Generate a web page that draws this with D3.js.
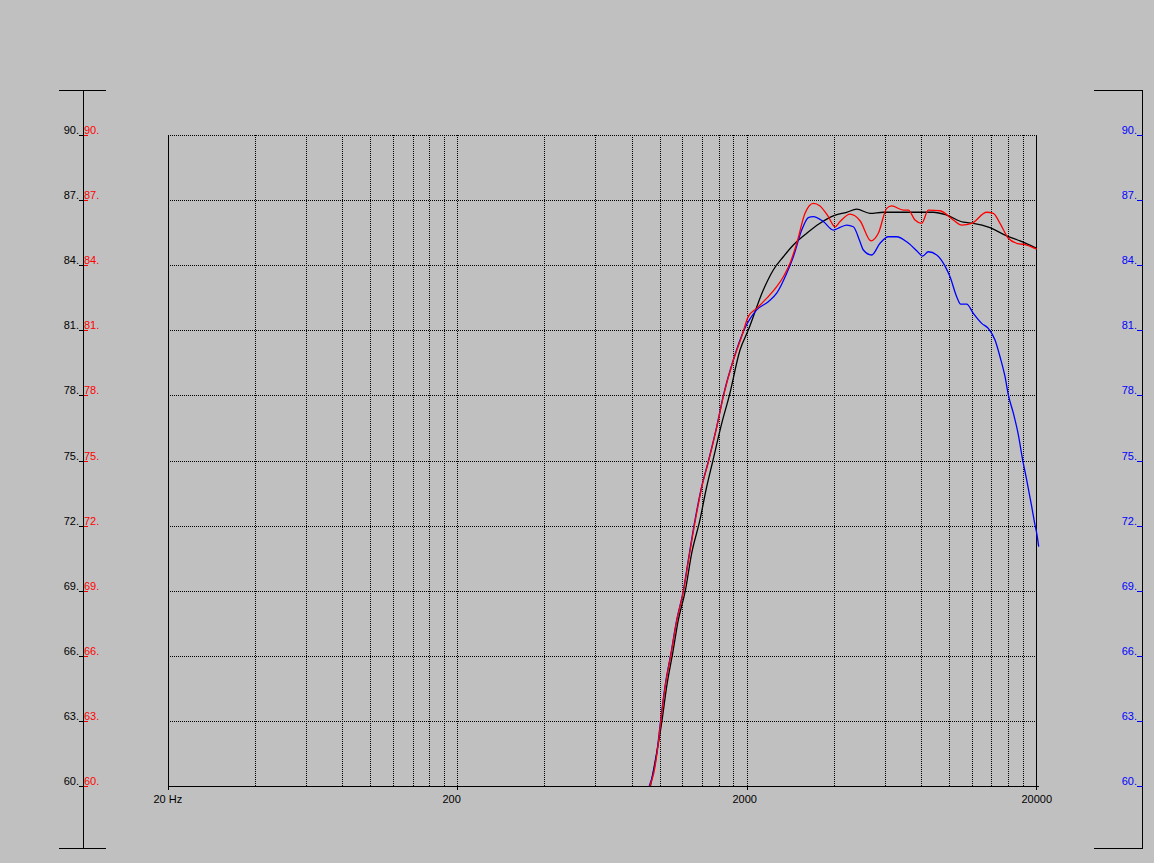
<!DOCTYPE html>
<html>
<head>
<meta charset="utf-8">
<script src="https://cdn.jsdelivr.net/npm/d3@7"></script>
<style>
  html, body { margin: 0; padding: 0; background: #C0C0C0; }
  svg { display: block; }
  text { font-family: "Liberation Sans", Arial, sans-serif; font-size: 11px; }
</style>
</head>
<body>
<svg id="chart" width="1154" height="863"></svg>
<script>
// ---- data ----
const dbTicks = [60, 63, 66, 69, 72, 75, 78, 81, 84, 87, 90];
const freqLabels = [20, 200, 2000, 20000];
const freqLabelText = ["20 Hz", "200", "2000", "20000"];
const gridFreqs = [40, 60, 80, 100, 120, 140, 160, 180, 200,
                   400, 600, 800, 1000, 1200, 1400, 1600, 1800, 2000,
                   4000, 6000, 8000, 10000, 12000, 14000, 16000, 18000];

const blackFreq = [930, 1020, 1058, 1110, 1161, 1227, 1291, 1379, 1447, 1526, 1640, 1742, 1897, 2026,
  2283, 2472, 2678, 2900, 3226, 3585, 3985, 4433, 4802, 5338, 5934, 8832, 9828, 11214, 12144,
  13870, 15844, 17616, 20112];
const blackDb = [60.0, 63.04, 64.58, 66.12, 67.65, 68.99, 70.72, 72.26, 73.64, 74.95, 76.71, 77.99, 80.09, 81.01,
  82.86, 83.78, 84.39, 84.93, 85.47, 85.93, 86.27, 86.44, 86.58, 86.39, 86.44, 86.44, 86.31, 85.98, 85.93,
  85.73, 85.35, 85.12, 84.78];

const redFreq = [925, 955, 980, 1011, 1046, 1097, 1148, 1210, 1260, 1330, 1400, 1476, 1578, 1664, 1800,
  1922, 2026, 2166, 2347, 2540, 2678, 2824, 2979, 3182, 3399, 3585, 3830, 4041, 4204, 4552, 4930,
  5380, 5702, 6096, 6342, 6956, 7239, 7636, 8053, 8488, 9316, 10358, 11073, 11991, 13512, 14240,
  15020, 16050, 17160, 18576, 20112];
const redDb = [60.0, 60.59, 61.51, 63.04, 64.58, 66.12, 67.65, 68.99, 70.42, 72.26, 73.79, 74.95, 76.56, 77.99, 79.63,
  80.71, 81.63, 82.01, 82.48, 83.01, 83.47, 84.09, 85.01, 86.39, 86.85, 86.73, 86.24, 85.77, 86.01, 86.35, 86.05,
  85.12, 85.47, 86.62, 86.73, 86.54, 86.54, 86.08, 85.93, 86.54, 86.51, 86.08, 85.85, 85.93, 86.44, 86.39,
  85.93, 85.24, 85.01, 84.93, 84.74];

const blueFreq = [921, 951, 978, 1009, 1044, 1095, 1146, 1208, 1257, 1326, 1398, 1473, 1576, 1661, 1798, 1958,
  2166, 2376, 2540, 2751, 2900, 3100, 3267, 3399, 3681, 3985, 4204, 4433, 4674, 4930,
  5061, 5410, 5780, 6174, 6600, 7147, 7739, 8118, 8488, 9075, 9696, 10090, 10640, 10986, 11522,
  12144, 12984, 13684, 14434, 15020, 15632, 16050, 16700, 17380, 17990, 18576, 19330, 19844, 20112, 20434];
const blueDb = [60.0, 60.59, 61.51, 63.04, 64.58, 66.12, 67.65, 68.99, 70.42, 72.26, 73.79, 74.95, 76.56, 77.99, 79.63, 81.01,
  81.94, 82.32, 82.71, 83.63, 84.39, 85.62, 86.19, 86.24, 86.01, 85.62, 85.74, 85.85, 85.77, 85.08,
  84.70, 84.47, 85.01, 85.31, 85.31, 85.08, 84.67, 84.42, 84.62, 84.47, 83.96, 83.47, 82.55, 82.21, 82.21,
  81.78, 81.32, 81.09, 80.55, 79.78, 78.86, 78.02, 77.18, 76.18, 75.02, 74.10, 72.87, 72.03, 71.65, 71.03];

// ---- layout ----
const svg = d3.select("#chart");
const x = d3.scaleLog().domain([20, 20000]).range([168, 1036]);
const y = d3.scaleLinear().domain([60, 90]).range([786, 135]);

const g = svg.append("g");

// gridlines (dotted)
g.selectAll("line.hgrid").data(dbTicks.filter(d => d > 60)).enter().append("line")
  .attr("x1", x(20)).attr("x2", x(20000))
  .attr("y1", d => Math.round(y(d)) + 0.5).attr("y2", d => Math.round(y(d)) + 0.5)
  .attr("stroke", "#000").attr("stroke-width", 1).attr("stroke-dasharray", "1,1")
  .attr("shape-rendering", "crispEdges");

g.selectAll("line.vgrid").data(gridFreqs).enter().append("line")
  .attr("x1", d => Math.round(x(d)) + 0.5).attr("x2", d => Math.round(x(d)) + 0.5)
  .attr("y1", y(90)).attr("y2", y(60))
  .attr("stroke", "#000").attr("stroke-width", 1).attr("stroke-dasharray", "1,1")
  .attr("shape-rendering", "crispEdges");

// frame: left, bottom, right solid
const fl = Math.round(x(20)) + 0.5, fr = Math.round(x(20000)) + 0.5;
const fb = Math.round(y(60)) + 0.5, ft = Math.round(y(90));
const solid = (x1, y1, x2, y2, c) => g.append("line")
  .attr("x1", x1).attr("y1", y1).attr("x2", x2).attr("y2", y2)
  .attr("stroke", c || "#000").attr("stroke-width", 1).attr("shape-rendering", "crispEdges");
solid(fl, ft, fl, fb);
solid(fr, ft, fr, fb);
solid(fl, fb, fr + 2, fb);

// x ticks below axis at labeled frequencies
freqLabels.forEach((f, i) => {
  const xx = Math.round(x(f)) + 0.5;
  solid(xx, fb, xx, fb + 3.5);
  g.append("text").attr("x", Math.round(x(f)) - 14.5).attr("y", 803)
    .attr("fill", "#000").text(freqLabelText[i]);
});

// left axis
const lax = 83.5;
solid(lax, 90, lax, 848.5);
solid(59, 90.5, 106, 90.5);
solid(59, 848.5, 106, 848.5);
dbTicks.forEach(d => {
  const yy = Math.round(y(d));
  solid(79, yy + 0.5, lax, yy + 0.5, "#000");
  solid(lax, yy + 0.5, 87.5, yy + 0.5, "#FF0000");
  g.append("text").attr("x", 79).attr("y", yy - 1.5).attr("text-anchor", "end")
    .attr("fill", "#000").text(d + ".");
  g.append("text").attr("x", 84).attr("y", yy - 1.5).attr("text-anchor", "start")
    .attr("fill", "#FF0000").text(d + ".");
});

// right axis
const rax = 1142.5;
solid(rax, 90, rax, 848.5);
solid(1094, 90.5, rax, 90.5);
solid(1094, 848.5, rax, 848.5);
dbTicks.forEach(d => {
  const yy = Math.round(y(d));
  solid(1137, yy + 0.5, rax, yy + 0.5, "#0000FF");
  g.append("text").attr("x", 1137).attr("y", yy - 1.5).attr("text-anchor", "end")
    .attr("fill", "#0000FF").text(d + ".");
});

// curves
const line = d3.line().x(d => x(d[0])).y(d => y(d[1])).curve(d3.curveMonotoneX);
const series = [
  { f: blackFreq, v: blackDb, c: "#000000" },
  { f: blueFreq, v: blueDb, c: "#0000FF" },
  { f: redFreq, v: redDb, c: "#FF0000" }
];
series.forEach(s => {
  g.append("path").datum(s.f.map((f, i) => [f, s.v[i]]))
    .attr("d", line).attr("fill", "none").attr("stroke", s.c).attr("stroke-width", 1.3);
});
</script>
</body>
</html>
